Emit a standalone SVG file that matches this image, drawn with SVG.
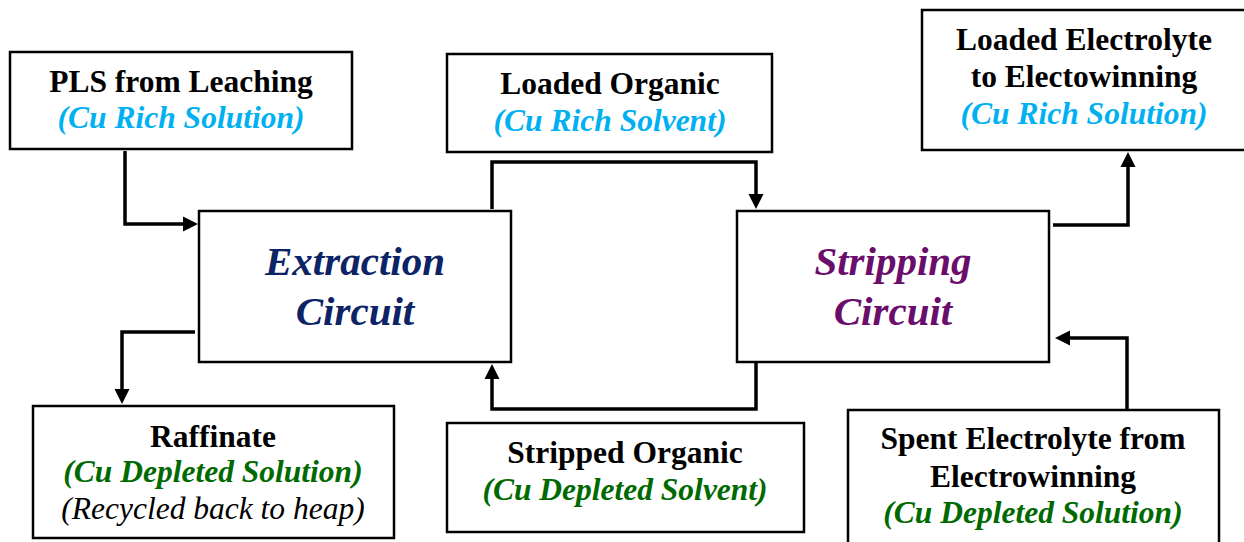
<svg xmlns="http://www.w3.org/2000/svg" width="1244" height="542" viewBox="0 0 1244 542">
<style>
.box{fill:#fff;stroke:#000;stroke-width:2.5}
.t{font-family:'Liberation Serif',serif;font-size:31.5px;font-weight:700;text-anchor:middle;fill:#000}
.i{font-style:italic}
.ni{font-weight:400;font-style:italic}
.cyan{fill:#00b0f0}
.green{fill:#006a00}
.big{font-size:41px;font-weight:700;font-style:italic}
.navy{fill:#0c2366}
.purple{fill:#6b0d6b}
.c{fill:none;stroke:#000;stroke-width:3.5;marker-end:url(#ah)}
</style>
<defs>
<marker id="ah" markerUnits="userSpaceOnUse" markerWidth="16" markerHeight="16" refX="7" refY="7.5" orient="auto" viewBox="0 0 16 15">
<path d="M0,0 L15,7.5 L0,15 z" fill="#000"/>
</marker>
</defs>
<rect width="1244" height="542" fill="#fff"/>
<g id="connectors">
<path class="c" d="M125,151 V224 H190"/>
<path class="c" d="M492,209 V162 H756 V201"/>
<path class="c" d="M1053,225 H1128 V160"/>
<path class="c" d="M195,332 H122 V396"/>
<path class="c" d="M756,363 V409 H492 V372"/>
<path class="c" d="M1127,409 V338 H1063"/>
</g>
<g id="pls">
<rect class="box" x="10" y="52" width="342" height="97"/>
<text class="t" x="181" y="92">PLS from Leaching</text>
<text class="t i cyan" x="181" y="128">(Cu Rich Solution)</text>
</g>
<g id="loaded-organic">
<rect class="box" x="447" y="54" width="325" height="98"/>
<text class="t" x="610" y="94">Loaded Organic</text>
<text class="t i cyan" x="610" y="131">(Cu Rich Solvent)</text>
</g>
<g id="loaded-electrolyte">
<rect class="box" x="922" y="10" width="330" height="140"/>
<text class="t" x="1084" y="50">Loaded Electrolyte</text>
<text class="t" x="1084" y="87">to Electowinning</text>
<text class="t i cyan" x="1084" y="124">(Cu Rich Solution)</text>
</g>
<g id="extraction">
<rect class="box" x="199" y="211" width="312" height="151"/>
<text class="t big navy" x="355" y="275">Extraction</text>
<text class="t big navy" x="355" y="325">Circuit</text>
</g>
<g id="stripping">
<rect class="box" x="737" y="211" width="312" height="151"/>
<text class="t big purple" x="893" y="275">Stripping</text>
<text class="t big purple" x="893" y="325">Circuit</text>
</g>
<g id="raffinate">
<rect class="box" x="33" y="406" width="361" height="132"/>
<text class="t" x="213" y="447">Raffinate</text>
<text class="t i green" x="213" y="482">(Cu Depleted Solution)</text>
<text class="t ni" x="213" y="519">(Recycled back to heap)</text>
</g>
<g id="stripped-organic">
<rect class="box" x="447" y="423" width="357" height="109"/>
<text class="t" x="625" y="463">Stripped Organic</text>
<text class="t i green" x="625" y="500">(Cu Depleted Solvent)</text>
</g>
<g id="spent-electrolyte">
<rect class="box" x="848" y="410" width="371" height="140"/>
<text class="t" x="1033" y="449">Spent Electrolyte from</text>
<text class="t" x="1033" y="487">Electrowinning</text>
<text class="t i green" x="1033" y="523">(Cu Depleted Solution)</text>
</g>
</svg>
